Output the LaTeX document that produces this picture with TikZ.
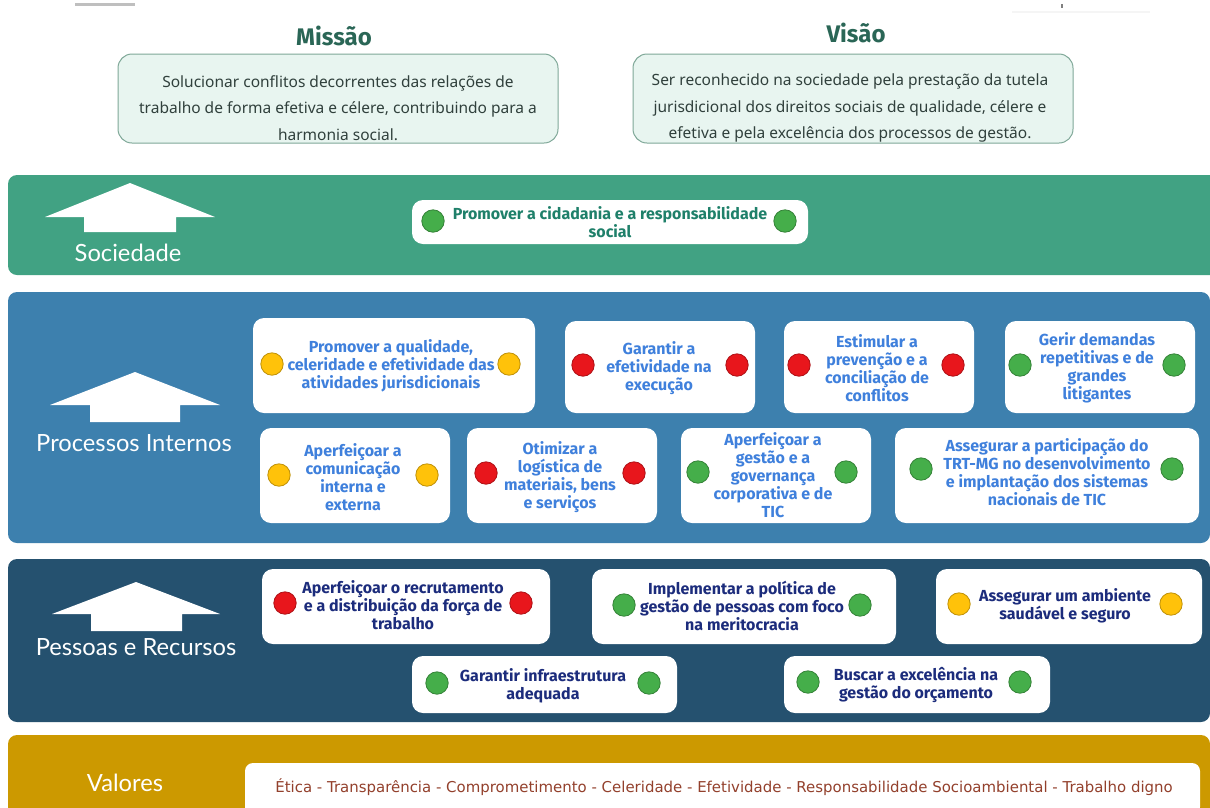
\documentclass[tikz,border=0pt]{standalone}
\usepackage{fontspec}
\setmainfont{Noto Sans}
\newfontfamily\cardfont{Fira Sans}
\newfontfamily\bandfont{Lato}
\newfontfamily\valfont{DejaVu Sans}
\definecolor{socband}{HTML}{41A283}
\definecolor{procband}{HTML}{3D80AE}
\definecolor{pesband}{HTML}{25516F}
\definecolor{valband}{HTML}{CC9900}
\definecolor{soctext}{HTML}{1F806A}
\definecolor{proctext}{HTML}{3F80DC}
\definecolor{pestext}{HTML}{1C2C7C}
\definecolor{valtext}{HTML}{93402C}
\definecolor{bodytext}{HTML}{30403C}
\definecolor{titletext}{HTML}{2A6656}
\definecolor{boxfill}{HTML}{E8F5F0}
\definecolor{boxline}{HTML}{7FA898}
\definecolor{lampgreen}{HTML}{45AE4A}
\definecolor{lampred}{HTML}{E8161C}
\definecolor{lampyellow}{HTML}{FFC20A}
\tikzset{
  x=1pt,y=-1pt,
  bandshape/.style={rounded corners=9pt},
  cardshape/.style={fill=white,rounded corners=11pt},
  missionshape/.style={fill=boxfill,draw=boxline,line width=1pt,rounded corners=14pt},
  bodylabel/.style={font=\fontsize{15.5}{26.7}\selectfont,text=bodytext,align=center,inner sep=0pt},
  titlelabel/.style={font=\cardfont\bfseries\fontsize{24}{26}\selectfont,text=titletext,inner sep=0pt},
  bandlabel/.style={font=\bandfont\fontsize{23.7}{26}\selectfont,text=white,inner sep=0pt},
  cardlabel/.style={font=\cardfont\bfseries\fontsize{16}{18}\selectfont,align=center,inner sep=0pt},
  soccard/.style={cardlabel,text=soctext},
  proccard/.style={cardlabel,text=proctext},
  pescard/.style={cardlabel,text=pestext},
  vallabel/.style={font=\valfont\fontsize{14.95}{16}\selectfont,text=valtext,inner sep=0pt},
}
\newcommand{\lamp}[3]{\draw[fill=#1,draw=#1!75!black,line width=.8pt] (#2,#3) circle[radius=11.2];}
\newcommand{\uparrowshape}[7]{\fill[white] (#1,#2) -- (#3,#4) -- (#5,#4) -- (#5,#7) -- (#6,#7) -- (#6,#4) -- (2*#1-#3,#4) -- cycle;}
\begin{document}
\begin{tikzpicture}
\useasboundingbox (0,0) rectangle (1210,807);
\clip (0,0) rectangle (1210,807);
\fill[white] (0,0) rectangle (1210,807);
% faint remains at the top edge
\fill[black!25] (75,3) rectangle (135,6);
\fill[black!50] (1061,4) rectangle (1063,8);
\fill[black!4] (1012,11) rectangle (1150,13);
% mission / vision
\node[titlelabel] (missao) at (334,36) {Missão};
\node[titlelabel] (visao) at (856,33) {Visão};
\path[missionshape] (118,54) rectangle (558,143);
\path[missionshape] (633,54) rectangle (1073,143);
\node[bodylabel] (missaotxt) at (338,108) {Solucionar conflitos decorrentes das relações de\\trabalho de forma efetiva e célere, contribuindo para a\\harmonia social.};
\node[bodylabel] (visaotxt) at (850,108) {Ser reconhecido na sociedade pela prestação da tutela\\jurisdicional dos direitos sociais de qualidade, célere e\\efetiva e pela excelência dos processos de gestão.};
% bands
\path[bandshape,fill=socband] (8,175) rectangle (1225,275);
\path[bandshape,fill=procband] (8,292) rectangle (1210,543);
\path[bandshape,fill=pesband] (8,559) rectangle (1210,722);
\path[bandshape,fill=valband] (8,735) rectangle (1210,825);
% arrows
\uparrowshape{130}{183}{45}{217}{84}{176}{232}
\uparrowshape{135}{372}{50}{405}{90}{180}{422}
\uparrowshape{136}{582}{52}{614}{91}{182}{631}
% band labels
\node[bandlabel] (sociedade) at (128,253) {Sociedade};
\node[bandlabel] (processos) at (134,443) {Processos Internos};
\node[bandlabel] (pessoas) at (136,647) {Pessoas e Recursos};
\node[bandlabel] (valores) at (125,783) {Valores};
% sociedade card
\path[cardshape] (412,200) rectangle (808,244);
\lamp{lampgreen}{433}{221}\lamp{lampgreen}{785}{221}
\node[soccard] (s1) at (610,222) {Promover a cidadania e a responsabilidade\\social};
% processos row 1
\path[cardshape] (253,318) rectangle (535,413);
\lamp{lampyellow}{272}{364}\lamp{lampyellow}{509}{364}
\node[proccard] (p1) at (391,366) {Promover a qualidade,\\celeridade e efetividade das\\atividades jurisdicionais};
\path[cardshape] (565,321) rectangle (755,413);
\lamp{lampred}{583}{365}\lamp{lampred}{737}{365}
\node[proccard] (p2) at (659,368) {Garantir a\\efetividade na\\execução};
\path[cardshape] (784,321) rectangle (974,413);
\lamp{lampred}{799}{365}\lamp{lampred}{953}{365}
\node[proccard] (p3) at (877,368) {Estimular a\\prevenção e a\\conciliação de\\conflitos};
\path[cardshape] (1005,321) rectangle (1195,413);
\lamp{lampgreen}{1020}{365}\lamp{lampgreen}{1174}{365}
\node[proccard] (p4) at (1097,368) {Gerir demandas\\repetitivas e de\\grandes\\litigantes};
% processos row 2
\path[cardshape] (260,428) rectangle (450,523);
\lamp{lampyellow}{279}{475}\lamp{lampyellow}{427}{475}
\node[proccard] (p5) at (353,477) {Aperfeiçoar a\\comunicação\\interna e\\externa};
\path[cardshape] (467,428) rectangle (657,523);
\lamp{lampred}{486}{473}\lamp{lampred}{634}{473}
\node[proccard] (p6) at (560,477) {Otimizar a\\logística de\\materiais, bens\\e serviços};
\path[cardshape] (681,428) rectangle (871,523);
\lamp{lampgreen}{698}{472}\lamp{lampgreen}{846}{472}
\node[proccard] (p7) at (773,475) {Aperfeiçoar a\\gestão e a\\governança\\corporativa e de\\TIC};
\path[cardshape] (895,428) rectangle (1199,523);
\lamp{lampgreen}{921}{469}\lamp{lampgreen}{1172}{469}
\node[proccard] (p8) at (1047,472) {Assegurar a participação do\\TRT-MG no desenvolvimento\\e implantação dos sistemas\\nacionais de TIC};
% pessoas row 1
\path[cardshape] (262,569) rectangle (550,644);
\lamp{lampred}{285}{603}\lamp{lampred}{521}{603}
\node[pescard] (r1) at (403,605) {Aperfeiçoar o recrutamento\\e a distribuição da força de\\trabalho};
\path[cardshape] (592,569) rectangle (896,644);
\lamp{lampgreen}{624}{605}\lamp{lampgreen}{860}{605}
\node[pescard] (r2) at (742,606) {Implementar a política de\\gestão de pessoas com foco\\na meritocracia};
\path[cardshape] (936,569) rectangle (1202,644);
\lamp{lampyellow}{959}{604}\lamp{lampyellow}{1171}{604}
\node[pescard] (r3) at (1065,606) {Assegurar um ambiente\\saudável e seguro};
% pessoas row 2
\path[cardshape] (412,656) rectangle (677,713);
\lamp{lampgreen}{437}{683}\lamp{lampgreen}{649}{683}
\node[pescard] (r4) at (543,686) {Garantir infraestrutura\\adequada};
\path[cardshape] (784,656) rectangle (1050,713);
\lamp{lampgreen}{808}{682}\lamp{lampgreen}{1020}{682}
\node[pescard] (r5) at (916,685) {Buscar a excelência na\\gestão do orçamento};
% valores
\path[cardshape,rounded corners=8pt] (245,763) rectangle (1200,815);
\node[vallabel] (v1) at (724,787) {Ética - Transparência - Comprometimento - Celeridade - Efetividade - Responsabilidade Socioambiental - Trabalho digno};
\end{tikzpicture}
\end{document}
